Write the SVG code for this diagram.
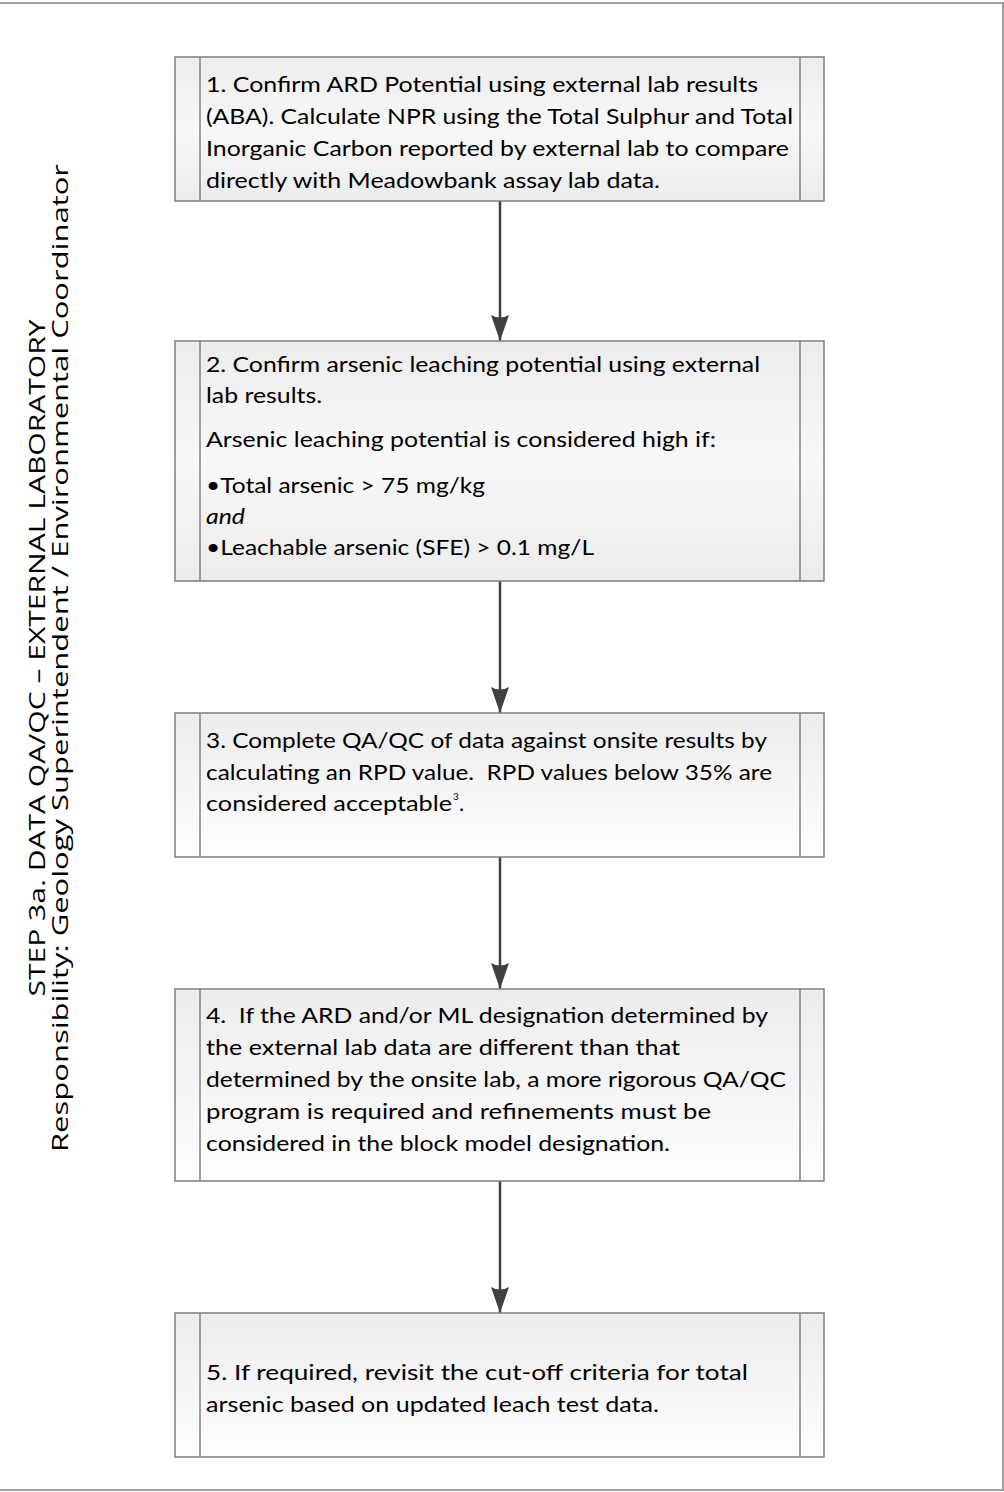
<svg xmlns="http://www.w3.org/2000/svg" width="1004" height="1492" viewBox="0 0 1004 1492">
<style>
.frame{fill:none;stroke:#a0a0a0;stroke-width:2}
.box{stroke:#7f7f7f;stroke-width:1.5}
.bar{stroke:#7f7f7f;stroke-width:1.5}
.t{font-family:Lato,"Open Sans","Liberation Sans",sans-serif;font-size:22px;fill:#000;white-space:pre}
.sup{font-family:Lato,"Open Sans","Liberation Sans",sans-serif;font-size:10px;fill:#000}
.v{font-family:"Open Sans","Noto Sans","Liberation Sans",sans-serif;font-size:21px;fill:#000}
.conn{stroke:#404040;stroke-width:2.5;fill:none}
</style>
<defs>
<linearGradient id="g1" x1="0" y1="0" x2="0" y2="1">
<stop offset="0" stop-color="#ececec"/>
<stop offset="0.5" stop-color="#f8f8f8"/>
<stop offset="1" stop-color="#ececec"/>
</linearGradient>
<linearGradient id="g2" x1="0" y1="0" x2="0" y2="1">
<stop offset="0" stop-color="#ececec"/>
<stop offset="1" stop-color="#fefefe"/>
</linearGradient>
<marker id="arr" markerUnits="userSpaceOnUse" markerWidth="28" markerHeight="20" refX="26" refY="10" orient="auto" viewBox="0 0 28 20">
<path d="M0,1 Q5,10 0,19 L26,10 Z" fill="#404040"/>
</marker>
</defs>
<rect class="frame" x="-1" y="3" width="1004" height="1487"/>
<g id="title">
<text class="v" transform="translate(45,658) rotate(-90)" text-anchor="middle" textLength="677" lengthAdjust="spacingAndGlyphs">STEP 3a. DATA QA/QC – EXTERNAL LABORATORY</text>
<text class="v" transform="translate(68,658) rotate(-90)" text-anchor="middle" textLength="988" lengthAdjust="spacingAndGlyphs">Responsibility: Geology Superintendent / Environmental Coordinator</text>
</g>
<g id="connectors">
<line class="conn" x1="500" y1="201" x2="500" y2="341" marker-end="url(#arr)"/>
<line class="conn" x1="500" y1="581" x2="500" y2="713" marker-end="url(#arr)"/>
<line class="conn" x1="500" y1="857" x2="500" y2="989" marker-end="url(#arr)"/>
<line class="conn" x1="500" y1="1181" x2="500" y2="1313" marker-end="url(#arr)"/>
</g>
<g id="step1">
<rect class="box" x="175" y="57" width="649" height="144" fill="url(#g1)"/>
<line class="bar" x1="200" y1="57" x2="200" y2="201"/>
<line class="bar" x1="800" y1="57" x2="800" y2="201"/>
<text class="t" x="206" y="92" textLength="552" lengthAdjust="spacingAndGlyphs">1. Confirm ARD Potential using external lab results</text>
<text class="t" x="206" y="124" textLength="587" lengthAdjust="spacingAndGlyphs">(ABA). Calculate NPR using the Total Sulphur and Total</text>
<text class="t" x="206" y="156" textLength="583" lengthAdjust="spacingAndGlyphs">Inorganic Carbon reported by external lab to compare</text>
<text class="t" x="206" y="188" textLength="454" lengthAdjust="spacingAndGlyphs">directly with Meadowbank assay lab data.</text>
</g>
<g id="step2">
<rect class="box" x="175" y="341" width="649" height="240" fill="url(#g1)"/>
<line class="bar" x1="200" y1="341" x2="200" y2="581"/>
<line class="bar" x1="800" y1="341" x2="800" y2="581"/>
<text class="t" x="206" y="372" textLength="554" lengthAdjust="spacingAndGlyphs">2. Confirm arsenic leaching potential using external</text>
<text class="t" x="206" y="403" textLength="116" lengthAdjust="spacingAndGlyphs">lab results.</text>
<text class="t" x="206" y="447" textLength="510" lengthAdjust="spacingAndGlyphs">Arsenic leaching potential is considered high if:</text>
<text class="t" x="206" y="493" textLength="279" lengthAdjust="spacingAndGlyphs">•Total arsenic &gt; 75 mg/kg</text>
<text class="t" x="206" y="524" font-style="italic" textLength="39" lengthAdjust="spacingAndGlyphs">and</text>
<text class="t" x="206" y="555" textLength="388" lengthAdjust="spacingAndGlyphs">•Leachable arsenic (SFE) &gt; 0.1 mg/L</text>
</g>
<g id="step3">
<rect class="box" x="175" y="713" width="649" height="144" fill="url(#g2)"/>
<line class="bar" x1="200" y1="713" x2="200" y2="857"/>
<line class="bar" x1="800" y1="713" x2="800" y2="857"/>
<text class="t" x="206" y="748" textLength="561" lengthAdjust="spacingAndGlyphs">3. Complete QA/QC of data against onsite results by</text>
<text class="t" x="206" y="780" textLength="566" lengthAdjust="spacingAndGlyphs">calculating an RPD value.  RPD values below 35% are</text>
<text class="t" x="206" y="811" textLength="246" lengthAdjust="spacingAndGlyphs">considered acceptable</text>
<text class="sup" x="453" y="800">3</text>
<text class="t" x="459" y="811">.</text>
</g>
<g id="step4">
<rect class="box" x="175" y="989" width="649" height="192" fill="url(#g2)"/>
<line class="bar" x1="200" y1="989" x2="200" y2="1181"/>
<line class="bar" x1="800" y1="989" x2="800" y2="1181"/>
<text class="t" x="206" y="1023" textLength="562" lengthAdjust="spacingAndGlyphs">4.  If the ARD and/or ML designation determined by</text>
<text class="t" x="206" y="1055" textLength="474" lengthAdjust="spacingAndGlyphs">the external lab data are different than that</text>
<text class="t" x="206" y="1087" textLength="580" lengthAdjust="spacingAndGlyphs">determined by the onsite lab, a more rigorous QA/QC</text>
<text class="t" x="206" y="1119" textLength="505" lengthAdjust="spacingAndGlyphs">program is required and refinements must be</text>
<text class="t" x="206" y="1151" textLength="464" lengthAdjust="spacingAndGlyphs">considered in the block model designation.</text>
</g>
<g id="step5">
<rect class="box" x="175" y="1313" width="649" height="144" fill="url(#g2)"/>
<line class="bar" x1="200" y1="1313" x2="200" y2="1457"/>
<line class="bar" x1="800" y1="1313" x2="800" y2="1457"/>
<text class="t" x="206" y="1380" textLength="542" lengthAdjust="spacingAndGlyphs">5. If required, revisit the cut-off criteria for total</text>
<text class="t" x="206" y="1412" textLength="453" lengthAdjust="spacingAndGlyphs">arsenic based on updated leach test data.</text>
</g>
</svg>
